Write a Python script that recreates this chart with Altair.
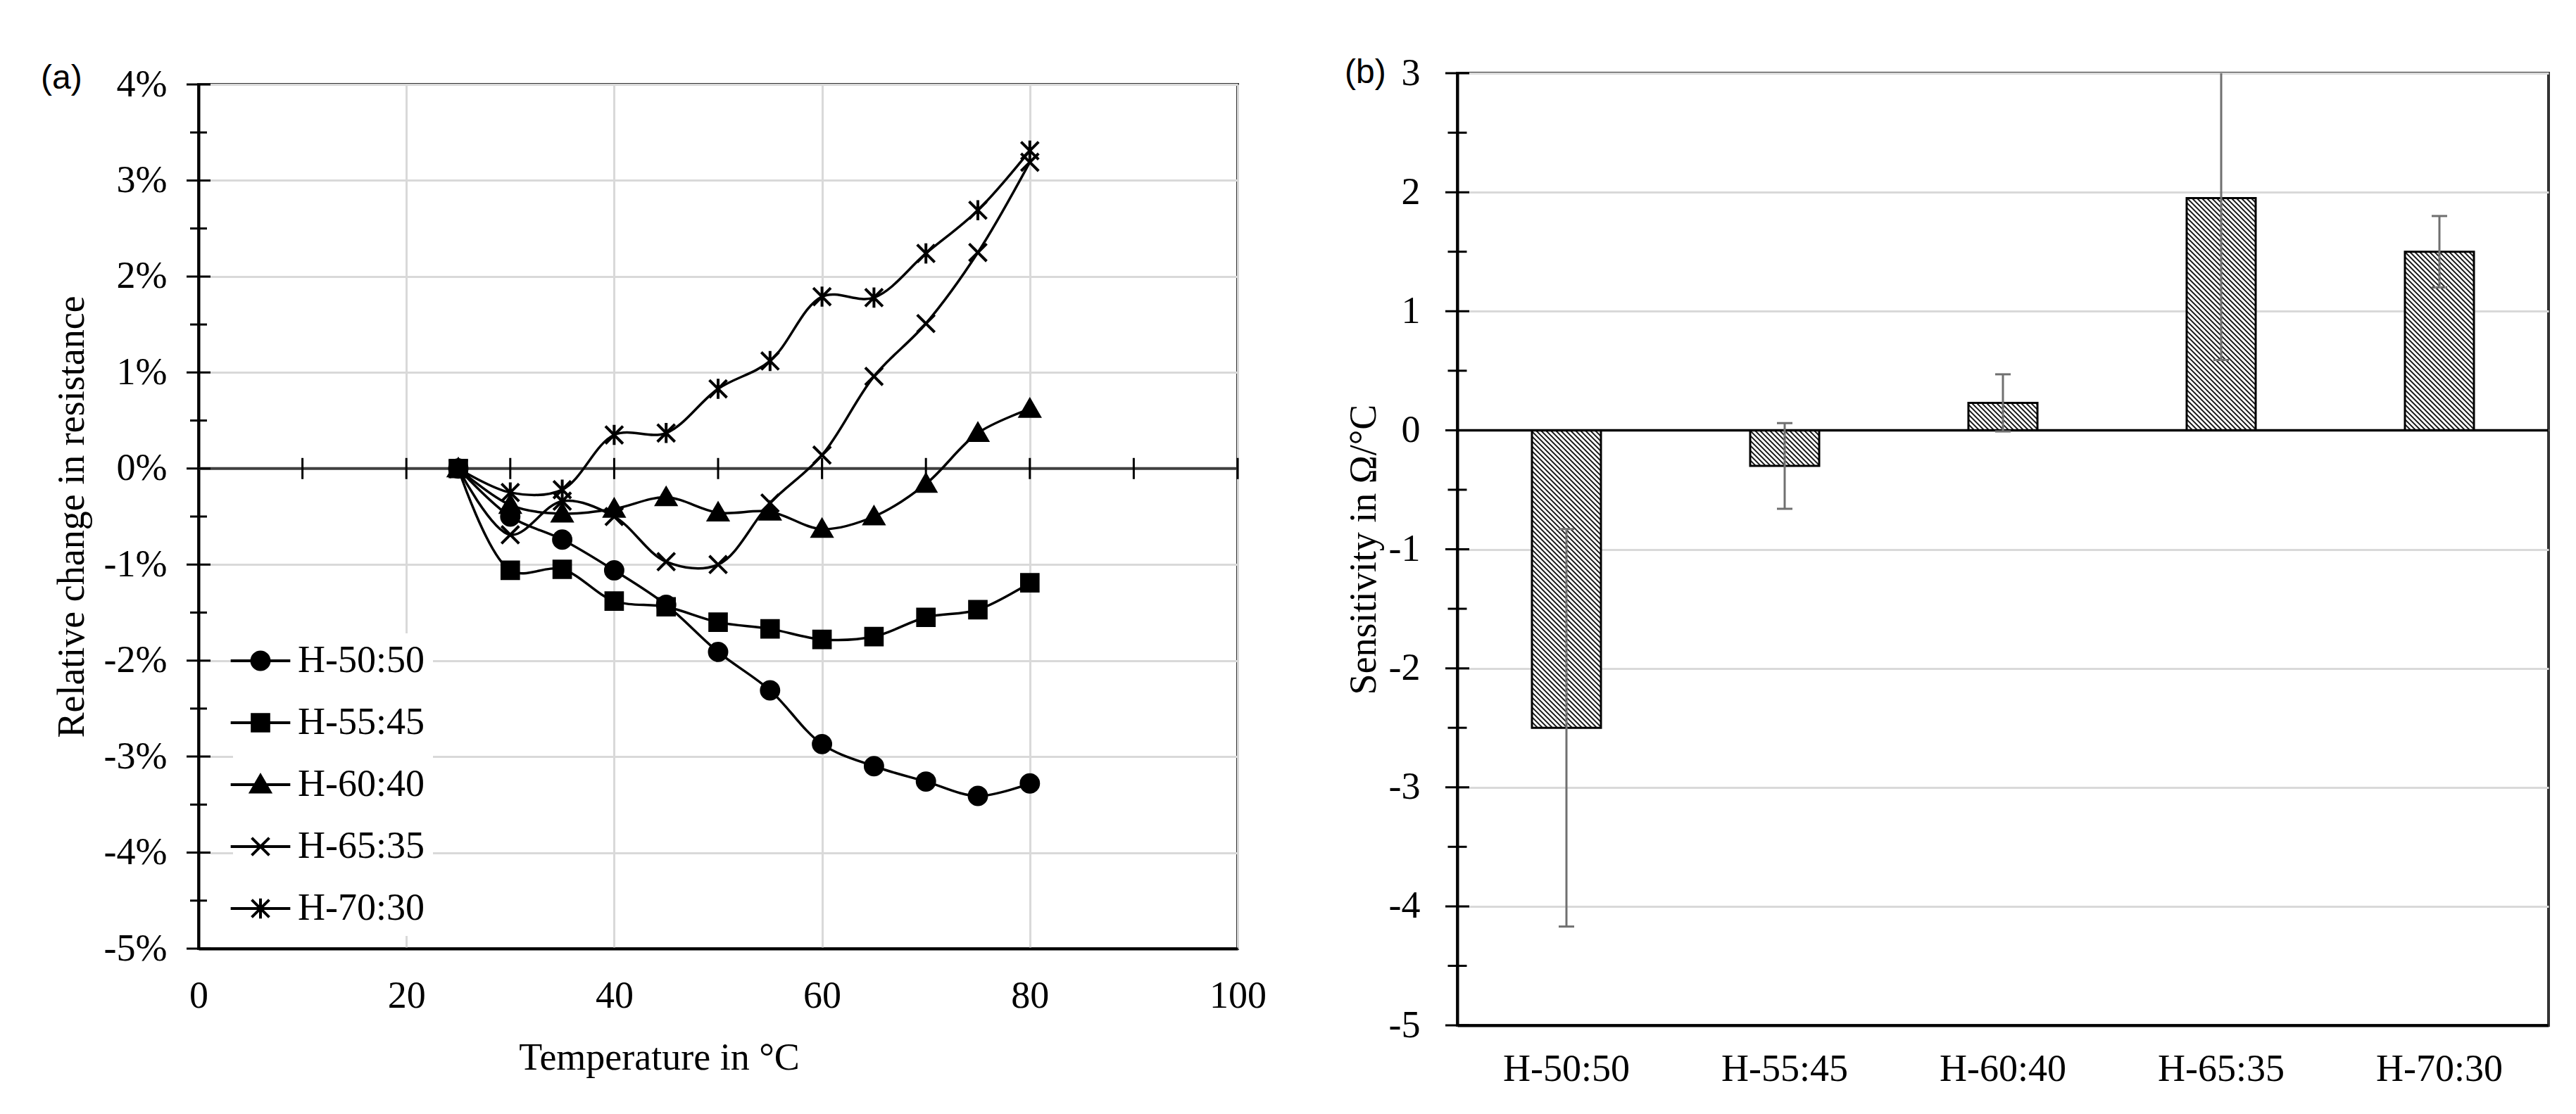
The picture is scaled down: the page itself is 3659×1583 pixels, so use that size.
import math
import altair as alt
import pandas as pd

# ---------------- data ----------------
temps = [25, 30, 35, 40, 45, 50, 55, 60, 65, 70, 75, 80]
series_names = ["H-50:50", "H-55:45", "H-60:40", "H-65:35", "H-70:30"]
h50_50 = [0, -0.50, -0.74, -1.06, -1.42, -1.91, -2.31, -2.87, -3.10, -3.26, -3.41, -3.28]
h55_45 = [0, -1.06, -1.05, -1.38, -1.44, -1.60, -1.67, -1.78, -1.75, -1.55, -1.47, -1.19]
h60_40 = [0, -0.38, -0.47, -0.42, -0.30, -0.46, -0.45, -0.63, -0.50, -0.16, 0.37, 0.62]
h65_35 = [0, -0.69, -0.34, -0.50, -0.97, -1.00, -0.36, 0.14, 0.96, 1.51, 2.25, 3.19]
h70_30 = [0, -0.25, -0.22, 0.35, 0.37, 0.83, 1.12, 1.79, 1.78, 2.24, 2.69, 3.31]

sens_values = [-2.50, -0.30, 0.23, 1.95, 1.50]
sens_errors = [1.67, 0.36, 0.24, 1.36, 0.30]

# axis tick values
left_x_labels = [0, 20, 40, 60, 80, 100]
left_x_ticks = [10, 20, 30, 40, 50, 60, 70, 80, 90, 100]
left_y_major = [-5, -4, -3, -2, -1, 0, 1, 2, 3, 4]
left_y_minor = [-4.5, -3.5, -2.5, -1.5, -0.5, 0.5, 1.5, 2.5, 3.5]
right_y_major = [-5, -4, -3, -2, -1, 0, 1, 2, 3]
right_y_minor = [-4.5, -3.5, -2.5, -1.5, -0.5, 0.5, 1.5, 2.5]

# ---------------- styling ----------------
SERIF = "Liberation Serif"
SANS = "Liberation Sans"
FS = 54
GRID = "#d9d9d9"
W1, H1 = 1476, 1228
W2, H2 = 1550, 1353
BAR_W = 98
PT_SIZE = 620
PT_STROKE = 4

marker_paths = [
    "M1,0A1,1,0,1,1,-1,0A1,1,0,1,1,1,0Z",
    "M-0.95,-0.95H0.95V0.95H-0.95Z",
    "M0,-1.05L1.1,0.85L-1.1,0.85Z",
    "M-1,-1L1,1M-1,1L1,-1",
    "M-1,-1L1,1M-1,1L1,-1M0,-1.15L0,1.15",
]


# legend symbols: a line through the marker; solid markers are drawn as nested
# outlines so that they look filled with strokes alone
def _circle(r):
    return f"M{r},0A{r},{r},0,1,1,{-r},0A{r},{r},0,1,1,{r},0Z"


def _square(s):
    return f"M{-s},{-s}H{s}V{s}H{-s}Z"


def _tri(f):
    c = 0.217
    return (f"M0,{c + f * (-1.05 - c):.3f}L{1.1 * f:.3f},{c + f * (0.85 - c):.3f}"
            f"L{-1.1 * f:.3f},{c + f * (0.85 - c):.3f}Z")


legend_markers = [
    "".join(_circle(r) for r in [1.0, 0.68, 0.36, 0.06]),
    "".join(_square(s) for s in [0.95, 0.63, 0.31, 0.04]),
    "".join(_tri(f) for f in [1.0, 0.6, 0.2]),
    marker_paths[3],
    marker_paths[4],
]
legend_paths = ["M-3.4,0H3.4" + p for p in legend_markers]

# ---------------- left panel ----------------
all_series = [h50_50, h55_45, h60_40, h65_35, h70_30]
rows = []
for name, vals in zip(series_names, all_series):
    for t, v in zip(temps, vals):
        rows.append({"series": name, "temp": t, "val": v})
df_a = pd.DataFrame(rows)

xs1 = alt.Scale(domain=[0, 100], nice=False, zero=False)
ys1 = alt.Scale(domain=[-5, 4], nice=False, zero=False)
xaxis1 = alt.Axis(
    values=left_x_labels, grid=True, gridColor=GRID, gridWidth=3, ticks=False,
    domainColor="black", domainWidth=4, labelFont=SERIF, labelFontSize=FS,
    labelColor="black", labelPadding=40, labelFlush=False, labelOverlap=False,
    title="Temperature in °C", titleFont=SERIF, titleFontSize=FS,
    titleFontWeight="normal", titleColor="black", titleX=654, titleY=155,
    titleBaseline="middle", titleAlign="center",
)
yaxis1 = alt.Axis(
    values=left_y_major, labelExpr="datum.value + '%'", grid=True, gridColor=GRID,
    gridWidth=3, ticks=False, domainColor="black", domainWidth=4, labelFont=SERIF,
    labelFontSize=FS, labelColor="black", labelPadding=45, labelFlush=False,
    labelOverlap=False, title="Relative change in resistance", titleFont=SERIF,
    titleFontSize=FS, titleFontWeight="normal", titleColor="black", titleX=-180,
    titleY=H1 / 2, titleAngle=-90, titleBaseline="middle", titleAlign="center",
)
X1 = alt.X("temp:Q", scale=xs1, axis=xaxis1)
Y1 = alt.Y("val:Q", scale=ys1, axis=yaxis1)

zero_a = alt.Chart(pd.DataFrame({"val": [0]})).mark_rule(
    color="#404040", strokeWidth=4).encode(y=Y1)

xt_df = pd.DataFrame({"temp": left_x_ticks, "val": [0] * len(left_x_ticks)})
xticks_a = alt.Chart(xt_df).mark_tick(
    orient="vertical", size=30, thickness=3, color="black", opacity=1).encode(x=X1, y=Y1)

ymaj_df = pd.DataFrame({"val": left_y_major, "temp": [0] * len(left_y_major)})
ymin_df = pd.DataFrame({"val": left_y_minor, "temp": [0] * len(left_y_minor)})
ymaj_a = alt.Chart(ymaj_df).mark_tick(
    orient="horizontal", size=34, thickness=3, color="black", opacity=1).encode(x=X1, y=Y1)
ymin_a = alt.Chart(ymin_df).mark_tick(
    orient="horizontal", size=24, thickness=3, color="black", opacity=1).encode(x=X1, y=Y1)

lines_a = alt.Chart(df_a).mark_line(
    interpolate="catmull-rom", color="black", strokeWidth=3.5).encode(
    x=X1, y=Y1, detail="series:N")

points_a = alt.Chart(df_a).mark_point(
    fill="black", stroke="black", strokeWidth=PT_STROKE, size=PT_SIZE, opacity=1,
    filled=True).encode(
    x=X1, y=Y1,
    shape=alt.Shape("series:N", scale=alt.Scale(domain=series_names, range=marker_paths),
                    legend=None))

legend_a = alt.Chart(df_a).transform_filter("false").mark_point(
    fill="black", stroke="black", strokeWidth=PT_STROKE, size=PT_SIZE, opacity=1,
    filled=False).encode(
    shape=alt.Shape(
        "series:N",
        scale=alt.Scale(domain=series_names, range=legend_paths),
        legend=alt.Legend(
            title=None, orient="none", legendX=49, legendY=780, fillColor="white",
            padding=12, rowPadding=34, labelOffset=26, symbolSize=PT_SIZE,
            symbolStrokeWidth=PT_STROKE, symbolOpacity=1, labelFont=SERIF,
            labelFontSize=FS, labelColor="black", labelLimit=400,
        ),
    ))

label_a = alt.Chart(pd.DataFrame({"t": ["(a)"]})).mark_text(
    font=SANS, fontSize=48, align="left", baseline="middle", color="black").encode(
    x=alt.value(-224), y=alt.value(-8), text="t:N")

left = alt.layer(
    zero_a, xticks_a, ymaj_a, ymin_a, lines_a, points_a, legend_a, label_a
).resolve_scale(shape="independent").properties(width=W1, height=H1)

# an empty strip above the left panel: its plot sits 16 px lower than the right one
spacer = alt.Chart(pd.DataFrame({"t": [""]})).mark_text(opacity=0).encode(
    text="t:N").properties(width=W1, height=16,
                           view=alt.ViewBackground(stroke="transparent", strokeWidth=0))

left_col = alt.vconcat(spacer, left, spacing=0, bounds="flush")

# ---------------- right panel ----------------
df_b = pd.DataFrame({
    "cat": series_names,
    "val": sens_values,
    "lo": [v - e for v, e in zip(sens_values, sens_errors)],
    "hi": [v + e for v, e in zip(sens_values, sens_errors)],
})
cap_df = pd.DataFrame({
    "cat": series_names * 2,
    "val": list(df_b["lo"]) + list(df_b["hi"]),
})

xs2 = alt.Scale(domain=series_names, paddingInner=0, paddingOuter=0)
ys2 = alt.Scale(domain=[-5, 3], nice=False, zero=False)
xaxis2 = alt.Axis(
    labelAngle=0, ticks=False, domainColor="black", domainWidth=4, labelFont=SERIF,
    labelFontSize=FS, labelColor="black", labelPadding=35, title=None, grid=False,
)
yaxis2 = alt.Axis(
    values=right_y_major, labelExpr="'' + datum.value", grid=True, gridColor=GRID,
    gridWidth=3, ticks=False, domainColor="black", domainWidth=4, labelFont=SERIF,
    labelFontSize=FS, labelColor="black", labelPadding=53, labelFlush=False,
    labelOverlap=False, title="Sensitivity in Ω/°C", titleFont=SERIF, titleFontSize=FS,
    titleFontWeight="normal", titleColor="black", titleX=-133, titleY=H2 / 2,
    titleAngle=-90, titleBaseline="middle", titleAlign="center",
)
X2 = alt.X("cat:N", scale=xs2, axis=xaxis2, sort=series_names)
Y2 = alt.Y("val:Q", scale=ys2, axis=yaxis2)

px_per_unit = H2 / 8.0


def hatch(value):
    w = float(BAR_W)
    h = max(abs(value) * px_per_unit, 1.0)
    span = w + h
    period = 7.0
    dark = 0.42
    k = span / (w * w + h * h)
    stops = []
    i = 0
    while i * period < span:
        a = i * period / span
        b = min((i * period + dark * period) / span, 1.0)
        c = min((i + 1) * period / span, 1.0)
        stops += [
            {"offset": round(a, 5), "color": "#2e2e2e"},
            {"offset": round(b, 5), "color": "#2e2e2e"},
            {"offset": round(b, 5), "color": "#ffffff"},
            {"offset": round(c, 5), "color": "#ffffff"},
        ]
        i += 1
    return {"gradient": "linear", "x1": 0, "y1": 1,
            "x2": round(k * w, 6), "y2": round(1 - k * h, 6), "stops": stops}


bar_layers = []
for name, v in zip(series_names, sens_values):
    bar_layers.append(
        alt.Chart(df_b).transform_filter(alt.datum.cat == name).mark_bar(
            size=BAR_W, fill=hatch(v), stroke="black", strokeWidth=3, opacity=1).encode(
            x=X2, y=Y2)
    )

zero_b = alt.Chart(pd.DataFrame({"val": [0]})).mark_rule(
    color="black", strokeWidth=3.5).encode(y=Y2)

err_b = alt.Chart(df_b).mark_rule(color="#707070", strokeWidth=3, clip=True).encode(
    x=X2, y=alt.Y("lo:Q", scale=ys2, axis=yaxis2), y2="hi:Q")

caps_b = alt.Chart(cap_df).mark_tick(
    orient="horizontal", size=22, thickness=3, color="#707070", opacity=1, clip=True).encode(
    x=X2, y=Y2)

ymaj_b = alt.Chart(pd.DataFrame({"val": right_y_major})).mark_tick(
    orient="horizontal", size=34, thickness=3, color="black", opacity=1).encode(
    x=alt.value(0), y=Y2)
ymin_b = alt.Chart(pd.DataFrame({"val": right_y_minor})).mark_tick(
    orient="horizontal", size=27, thickness=3, color="black", opacity=1).encode(
    x=alt.value(0), y=Y2)

label_b = alt.Chart(pd.DataFrame({"t": ["(b)"]})).mark_text(
    font=SANS, fontSize=48, align="left", baseline="middle", color="black").encode(
    x=alt.value(-160), y=alt.value(0), text="t:N")

right = alt.layer(
    *bar_layers, zero_b, err_b, caps_b, ymaj_b, ymin_b, label_b
).properties(width=W2, height=H2)

chart = alt.hconcat(left_col, right, spacing=107).properties(
    padding={"left": 48, "top": 67, "right": 5, "bottom": 5},
    background="white",
).configure_view(stroke="#333333", strokeWidth=4)

chart.save("out.html", embed_options={"renderer": "svg", "actions": False})
